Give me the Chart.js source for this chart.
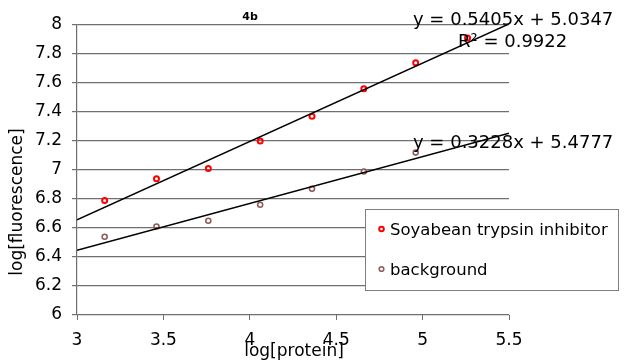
<!DOCTYPE html>
<html>
<head>
<meta charset="utf-8">
<script src="https://cdn.jsdelivr.net/npm/chart.js@4.4.1/dist/chart.umd.min.js"></script>
<style>
  html, body { margin: 0; padding: 0; background: #fff; }
  canvas { display: block; }
</style>
</head>
<body>
<canvas id="chart" width="626" height="364"></canvas>
<script>
// values
const xValues = [3.16, 3.46, 3.76, 4.06, 4.36, 4.66, 4.96, 5.26];
const soyValues = [6.79, 6.94, 7.01, 7.20, 7.37, 7.56, 7.74, 7.91];
const bgValues = [6.54, 6.61, 6.65, 6.76, 6.87, 6.99, 7.12];
const seriesNames = ['Soyabean trypsin inhibitor', 'background'];
const seriesColors = ['#ff0000', '#8f5d5d'];

// trendlines (from the equations shown on the chart)
const slopes = [0.5405, 0.3228];
const intercepts = [5.0347, 5.4777];
const equations = ['y = 0.5405x + 5.0347', 'y = 0.3228x + 5.4777'];
const rSquared = 'R² = 0.9922';

const xTicks = [3, 3.5, 4, 4.5, 5, 5.5];
const yTicks = [6, 6.2, 6.4, 6.6, 6.8, 7, 7.2, 7.4, 7.6, 7.8, 8];
const chartTitle = '4b';
const xTitle = 'log[protein]';
const yTitle = 'log[fluorescence]';

const FONT = '"DejaVu Sans", Verdana, sans-serif';
Chart.defaults.font.family = FONT;
Chart.defaults.color = '#000';

const xMin = xTicks[0], xMax = xTicks[xTicks.length - 1];

function points(ys) {
    return ys.map((y, i) => ({ x: xValues[i], y: y }));
}
function trend(i) {
    return [
        { x: xMin, y: slopes[i] * xMin + intercepts[i] },
        { x: xMax, y: slopes[i] * xMax + intercepts[i] }
    ];
}

// title, equations, axis titles and legend box
const overlay = {
    id: 'overlay',
    afterDraw(chart) {
        const ctx = chart.ctx;
        ctx.save();
        ctx.fillStyle = '#000';
        ctx.textBaseline = 'alphabetic';

        ctx.font = 'bold 11px ' + FONT;
        ctx.textAlign = 'center';
        ctx.fillText(chartTitle, 250, 20);

        ctx.font = '18px ' + FONT;
        ctx.textAlign = 'left';
        ctx.fillText(equations[0], 413, 25);
        ctx.fillText(rSquared, 458, 47);
        ctx.fillText(equations[1], 413, 148);

        ctx.font = '17px ' + FONT;
        ctx.textAlign = 'center';
        ctx.fillText(xTitle, 294, 356);
        ctx.save();
        ctx.translate(22, 202);
        ctx.rotate(-Math.PI / 2);
        ctx.fillText(yTitle, 0, 0);
        ctx.restore();

        // legend
        ctx.fillStyle = '#fff';
        ctx.fillRect(365, 209, 254, 82);
        ctx.strokeStyle = '#7f7f7f';
        ctx.lineWidth = 1;
        ctx.strokeRect(365.5, 209.5, 253, 81);
        ctx.font = '16.5px ' + FONT;
        ctx.textAlign = 'left';
        const rows = [229, 269];
        seriesNames.forEach((name, i) => {
            ctx.beginPath();
            ctx.arc(381.5, rows[i], 2.3, 0, Math.PI * 2);
            ctx.strokeStyle = seriesColors[i];
            ctx.lineWidth = i === 0 ? 2 : 1.6;
            ctx.stroke();
            ctx.fillStyle = '#000';
            ctx.fillText(name, 390, rows[i] + 6);
        });
        ctx.restore();
    }
};

new Chart(document.getElementById('chart'), {
    type: 'scatter',
    data: {
        datasets: [
            {
                label: seriesNames[0] + ' trend',
                data: trend(0),
                showLine: true,
                borderColor: '#000',
                borderWidth: 1.5,
                pointRadius: 0,
                order: 0
            },
            {
                label: seriesNames[1] + ' trend',
                data: trend(1),
                showLine: true,
                borderColor: '#000',
                borderWidth: 1.5,
                pointRadius: 0,
                order: 0
            },
            {
                label: seriesNames[0],
                data: points(soyValues),
                pointRadius: 2.5,
                pointBorderWidth: 2,
                pointBackgroundColor: 'rgba(0,0,0,0)',
                borderColor: seriesColors[0],
                order: 1
            },
            {
                label: seriesNames[1],
                data: points(bgValues),
                pointRadius: 2.5,
                pointBorderWidth: 1.6,
                pointBackgroundColor: 'rgba(0,0,0,0)',
                borderColor: seriesColors[1],
                order: 1
            }
        ]
    },
    options: {
        responsive: false,
        animation: false,
        layout: { padding: { top: 25, right: 117, left: 0, bottom: 0 } },
        plugins: {
            legend: { display: false },
            title: { display: false },
            tooltip: { enabled: false }
        },
        scales: {
            x: {
                type: 'linear',
                min: xMin,
                max: xMax,
                afterBuildTicks: scale => { scale.ticks = xTicks.map(v => ({ value: v })); },
                afterFit: scale => { scale.height = 49; },
                grid: { drawOnChartArea: false, drawTicks: true, tickLength: 5, color: '#6f6f6f' },
                border: { display: false },
                ticks: { font: { size: 17 }, padding: 10, maxRotation: 0, callback: v => String(v) }
            },
            y: {
                type: 'linear',
                min: yTicks[0],
                max: yTicks[yTicks.length - 1],
                afterBuildTicks: scale => { scale.ticks = yTicks.map(v => ({ value: v })); },
                afterFit: scale => { scale.width = 77; },
                grid: { color: '#6f6f6f', tickLength: 5, lineWidth: 1.2 },
                border: { display: true, color: '#6f6f6f', width: 1.2 },
                ticks: { font: { size: 17 }, padding: 10, callback: v => String(v) }
            }
        }
    },
    plugins: [overlay]
});
</script>
</body>
</html>
